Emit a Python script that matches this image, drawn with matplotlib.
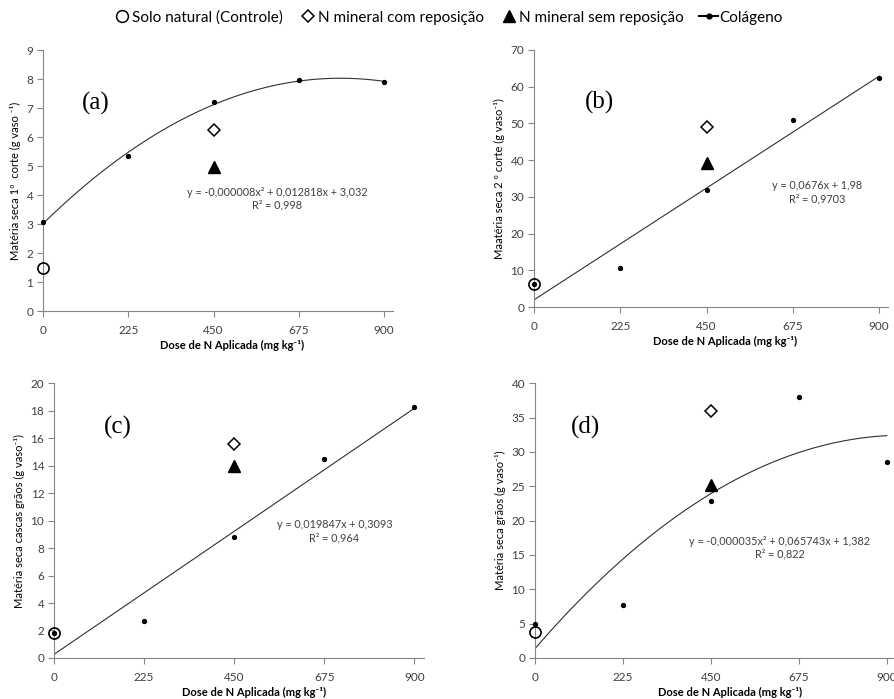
import matplotlib
matplotlib.use("Agg")
import matplotlib.pyplot as plt
from matplotlib.lines import Line2D
import numpy as np

plt.rcParams['font.family'] = ['Lato', 'DejaVu Sans']

dose = [0, 225, 450, 675, 900]
xticks = [0, 225, 450, 675, 900]

# (a) materia seca 1o corte
col_a = [3.07, 5.35, 7.2, 7.97, 7.9]
ctrl_a = 1.5
com_a = 6.25
sem_a = 4.97

# (b) materia seca 2o corte
col_b = [6.2, 10.7, 32.0, 50.8, 62.3]
ctrl_b = 6.2
com_b = 49.0
sem_b = 39.2

# (c) cascas graos
col_c = [1.8, 2.7, 8.8, 14.5, 18.3]
ctrl_c = 1.8
com_c = 15.6
sem_c = 14.0

# (d) graos
col_d = [4.9, 7.7, 22.9, 38.0, 28.5]
ctrl_d = 3.8
com_d = 36.0
sem_d = 25.2

ylabels = ['Matéria seca 1º  corte (g vaso ⁻¹)',
           'Maatéria seca 2 º corte (g vaso⁻¹)',
           'Matéria seca cascas grãos (g vaso⁻¹)',
           'Matéria seca grãos (g vaso⁻¹)']
equations = ['y = -0,000008x² + 0,012818x + 3,032\nR² = 0,998',
             'y = 0,0676x + 1,98\nR² = 0,9703',
             'y = 0,019847x + 0,3093\nR² = 0,964',
             'y = -0,000035x² + 0,065743x + 1,382\nR² = 0,822']
letters = ['(a)', '(b)', '(c)', '(d)']

grey = '#868686'
txtc = '#404040'

fig = plt.figure(figsize=(8.95, 6.99), dpi=100)
rects = [[0.048, 0.555, 0.391, 0.373],
         [0.5966, 0.5608, 0.3955, 0.3677],
         [0.0603, 0.0587, 0.413, 0.393],
         [0.5978, 0.0587, 0.403, 0.393]]
ylims = [(0, 9, 1), (0, 70, 10), (0, 20, 2), (0, 40, 5)]
cols = [col_a, col_b, col_c, col_d]
ctrls = [ctrl_a, ctrl_b, ctrl_c, ctrl_d]
coms = [com_a, com_b, com_c, com_d]
sems = [sem_a, sem_b, sem_c, sem_d]
degs = [2, 1, 1, 2]
letter_pos = [(0.151, 0.797), (0.186, 0.794), (0.173, 0.84), (0.139, 0.84)]
eq_pos = [(0.669, 0.43), (0.799, 0.447), (0.759, 0.462), (0.679, 0.402)]

for i in range(4):
    ax = fig.add_axes(rects[i])
    x = np.array(dose)
    y = np.array(cols[i])
    coef = np.polyfit(x, y, degs[i])
    xs = np.linspace(0, 900, 200)
    ax.plot(xs, np.polyval(coef, xs), color='#303030', lw=0.8)
    ax.plot(x, y, 'o', color='black', ms=2.8, clip_on=False, zorder=5)
    ax.plot([0], [ctrls[i]], 'o', mfc='none', mec='black', ms=8, mew=1.2, clip_on=False, zorder=4)
    ax.plot([450], [coms[i]], 'D', mfc='white', mec='black', ms=6.5, mew=1.1, clip_on=False, zorder=4)
    ax.plot([450], [sems[i]], '^', color='black', ms=8.5, clip_on=False, zorder=4)

    lo, hi, st = ylims[i]
    ax.set_ylim(lo, hi)
    ax.set_yticks(np.arange(lo, hi + st / 2, st))
    ax.set_xlim(0, 923)
    ax.set_xticks(xticks)
    for s in ['top', 'right']:
        ax.spines[s].set_visible(False)
    for s in ['left', 'bottom']:
        ax.spines[s].set_color(grey)
        ax.spines[s].set_linewidth(0.8)
    ax.tick_params(colors=grey, labelcolor=txtc, labelsize=8.5, length=4, width=0.8, pad=3)
    ax.tick_params(axis='x', pad=6)
    ax.set_ylabel(ylabels[i], fontsize=8, color='black', labelpad=4)
    ax.set_xlabel('Dose de N Aplicada (mg kg⁻¹)', fontsize=8, fontweight='bold',
                  color='black', labelpad=3)
    ax.xaxis.label.set_x(0.54)
    ax.text(letter_pos[i][0], letter_pos[i][1], letters[i], transform=ax.transAxes,
            fontsize=18, family='Liberation Serif', ha='center', va='center')
    ax.text(eq_pos[i][0], eq_pos[i][1], equations[i], transform=ax.transAxes,
            fontsize=7.8, ha='center', va='center', color=txtc, linespacing=1.2)

handles = [Line2D([], [], ls='none', marker='o', mfc='none', mec='black', ms=8.5, mew=1.1),
           Line2D([], [], ls='none', marker='D', mfc='none', mec='black', ms=6.5, mew=1.1),
           Line2D([], [], ls='none', marker='^', color='black', ms=8.5),
           Line2D([], [], color='black', lw=1.5, marker='o', ms=3.5)]
labels = ['Solo natural (Controle)', 'N mineral com reposição',
          'N mineral sem reposição', 'Colágeno']
fig.legend(handles, labels, loc='center', bbox_to_anchor=(0.5, 0.975), ncol=4,
           frameon=False, fontsize=11, handletextpad=0.1, columnspacing=1.0,
           handlelength=1.2)

fig.savefig('out.png', dpi=100)
